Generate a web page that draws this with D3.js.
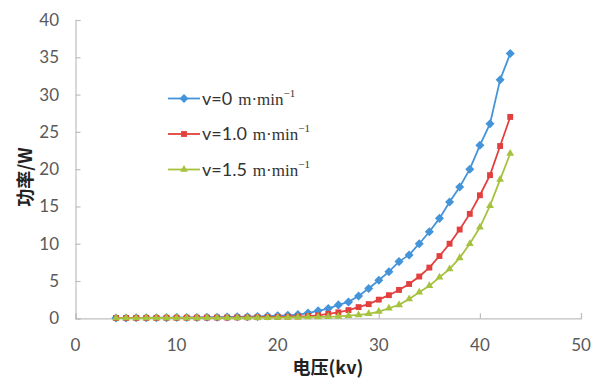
<!DOCTYPE html>
<html>
<head>
<meta charset="utf-8">
<script src="https://cdn.jsdelivr.net/npm/d3@7"></script>
<style>
  html, body { margin: 0; padding: 0; background: #fff; }
  svg { display: block; }
</style>
</head>
<body>
<svg id="chart" width="593" height="380"></svg>
<script>
// Voltage (kV) at each measurement
const voltage = [4, 5, 6, 7, 8, 9, 10, 11, 12, 13, 14, 15, 16, 17, 18, 19, 20, 21, 22, 23,
                 24, 25, 26, 27, 28, 29, 30, 31, 32, 33, 34, 35, 36, 37, 38, 39, 40, 41, 42, 43];

// Power (W) for each belt speed
const powerV0 = [0.05, 0.05, 0.06, 0.07, 0.08, 0.09, 0.1, 0.1, 0.12, 0.13, 0.15, 0.17, 0.2, 0.22, 0.25, 0.3, 0.35, 0.4, 0.5, 0.7,
                 1.0, 1.3, 1.8, 2.2, 3.0, 4.0, 5.1, 6.25, 7.6, 8.5, 10.0, 11.6, 13.4, 15.6, 17.6, 20.0, 23.2, 26.1, 32.0, 35.5];
const powerV10 = [0.05, 0.05, 0.05, 0.06, 0.06, 0.07, 0.07, 0.08, 0.08, 0.09, 0.1, 0.1, 0.12, 0.13, 0.15, 0.17, 0.2, 0.22, 0.25, 0.3,
                  0.4, 0.6, 0.8, 1.1, 1.5, 1.9, 2.5, 3.1, 3.8, 4.6, 5.6, 6.8, 8.35, 10.0, 11.9, 14.0, 16.5, 19.2, 23.1, 27.0];
const powerV15 = [0.03, 0.03, 0.03, 0.04, 0.04, 0.04, 0.05, 0.05, 0.05, 0.06, 0.06, 0.07, 0.07, 0.08, 0.08, 0.09, 0.1, 0.12, 0.14, 0.16,
                  0.18, 0.2, 0.25, 0.35, 0.45, 0.6, 0.9, 1.35, 1.8, 2.6, 3.5, 4.35, 5.5, 6.6, 8.1, 10.0, 12.2, 15.1, 18.6, 22.1];

const seriesNames = ["v=0", "v=1.0", "v=1.5"];
const xTicks = [0, 10, 20, 30, 40, 50];
const yTicks = [0, 5, 10, 15, 20, 25, 30, 35, 40];

const series = [
  { name: seriesNames[0], values: powerV0,  color: "#4494da", symbol: d3.symbolDiamond2, size: 52 },
  { name: seriesNames[1], values: powerV10, color: "#e2403e", symbol: d3.symbolSquare2,  size: 44 },
  { name: seriesNames[2], values: powerV15, color: "#a6c33f", symbol: d3.symbolTriangle2, size: 44 }
];

const svg = d3.select("#chart");
const x = d3.scaleLinear().domain([0, 50]).range([75.5, 581]);
const y = d3.scaleLinear().domain([0, 40]).range([318.3, 20]);

const axisColor = "#bfbfbf";
const tickColor = "#595959";

// Axes: inward tick marks, labels drawn separately
const xAxis = svg.append("g").attr("transform", `translate(0,${y(0)})`)
  .call(d3.axisTop(x).tickValues(xTicks).tickSize(5).tickFormat(""));
const yAxis = svg.append("g").attr("transform", `translate(${x(0)},0)`)
  .call(d3.axisRight(y).tickValues(yTicks).tickSize(5).tickFormat(""));
[xAxis, yAxis].forEach(g => {
  g.select(".domain").attr("stroke", axisColor).attr("stroke-width", 1.2);
  g.selectAll(".tick line").attr("stroke", axisColor).attr("stroke-width", 1.2);
});

svg.append("g").selectAll("text").data(xTicks).join("text")
  .attr("x", d => x(d)).attr("y", 351)
  .attr("text-anchor", "middle")
  .attr("font-family", "Lato, 'Open Sans', sans-serif").attr("font-size", 17)
  .attr("fill", tickColor).text(d => d);

svg.append("g").selectAll("text").data(yTicks).join("text")
  .attr("x", 59).attr("y", d => y(d) + 6)
  .attr("text-anchor", "end")
  .attr("font-family", "Lato, 'Open Sans', sans-serif").attr("font-size", 17)
  .attr("fill", tickColor).text(d => d);

// Axis titles
svg.append("text")
  .attr("x", 328).attr("y", 374)
  .attr("text-anchor", "middle")
  .attr("font-family", "'Noto Sans CJK SC', sans-serif").attr("font-weight", 700)
  .attr("font-size", 18).attr("fill", "#222")
  .text("电压(kv)");

svg.append("text")
  .attr("transform", "translate(32,177) rotate(-90)")
  .attr("text-anchor", "middle")
  .attr("font-family", "'Noto Sans CJK SC', sans-serif").attr("font-weight", 700)
  .attr("font-size", 18).attr("fill", "#222")
  .text("功率/W");

// Series lines and markers
const line = d3.line().x((d, i) => x(voltage[i])).y(d => y(d));
series.forEach(s => {
  const g = svg.append("g");
  g.append("path").datum(s.values)
    .attr("d", line).attr("fill", "none")
    .attr("stroke", s.color).attr("stroke-width", 1.8);
  g.selectAll("path.m").data(s.values).join("path")
    .attr("class", "m")
    .attr("transform", (d, i) => `translate(${x(voltage[i])},${y(d)})`)
    .attr("d", d3.symbol().type(s.symbol).size(s.size))
    .attr("fill", s.color);
});

// Legend
const legend = svg.append("g");
series.forEach((s, i) => {
  const ly = 98.5 + i * 35.5;
  legend.append("line")
    .attr("x1", 168).attr("x2", 200).attr("y1", ly).attr("y2", ly)
    .attr("stroke", s.color).attr("stroke-width", 1.8);
  legend.append("path")
    .attr("transform", `translate(184,${ly})`)
    .attr("d", d3.symbol().type(s.symbol).size(s.size))
    .attr("fill", s.color);
  const t = legend.append("text")
    .attr("x", 202).attr("y", ly + 6)
    .attr("fill", "#333");
  t.append("tspan")
    .attr("font-family", "Lato, 'Open Sans', sans-serif").attr("font-size", 18)
    .text(s.name);
  t.append("tspan")
    .attr("font-family", "'Liberation Serif', serif").attr("font-size", 17)
    .attr("dx", 6)
    .text("m·min");
  t.append("tspan")
    .attr("font-family", "'Liberation Serif', serif").attr("font-size", 11)
    .attr("dy", -8)
    .text("−1");
});
</script>
</body>
</html>
